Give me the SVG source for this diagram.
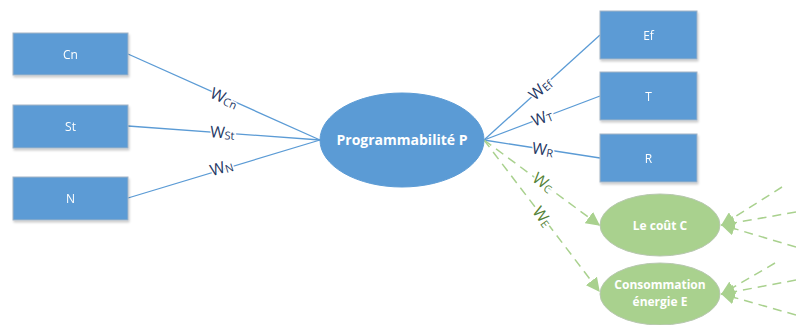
<svg xmlns="http://www.w3.org/2000/svg" width="796" height="325" viewBox="0 0 796 325">
<defs>
<style>
.box{fill:#5B9BD5;stroke:#A5B5C5;stroke-width:1}
.bt{font-family:"Open Sans","Liberation Sans",sans-serif;font-size:12px;fill:#fff;text-anchor:middle;dominant-baseline:central}
.et{font-family:"Open Sans","Liberation Sans",sans-serif;font-weight:bold;fill:#fff;text-anchor:middle}
.ge{fill:#A9D18E;stroke:#B8C8B0;stroke-width:1}
.ln{stroke:#5B9BD5;stroke-width:1.3;fill:none}
.dl{stroke:#A9D18E;stroke-width:1.5;fill:none;stroke-dasharray:9 6}
.wl{font-family:"Open Sans","Liberation Sans",sans-serif;font-size:16px;fill:#1F3864;text-anchor:middle;stroke:#fff;stroke-width:3;paint-order:stroke}
.wg{fill:#548235}
.sub{font-size:11px}
</style>
<marker id="ah2" viewBox="0 0 10 10" refX="9" refY="5" markerWidth="14" markerHeight="14" markerUnits="userSpaceOnUse" orient="auto">
<path d="M0,0 L10,5 L0,10 z" fill="#A9D18E"/>
</marker>
<filter id="sh" x="-10%" y="-10%" width="130%" height="140%">
<feDropShadow dx="1" dy="2" stdDeviation="1.2" flood-color="#000" flood-opacity="0.2"/>
</filter>
</defs>

<g id="connectors">
<line class="ln" x1="128" y1="54" x2="320" y2="140"/>
<line class="ln" x1="128" y1="126" x2="320" y2="140"/>
<line class="ln" x1="128" y1="198" x2="320" y2="140"/>
<line class="ln" x1="484" y1="140" x2="600" y2="35"/>
<line class="ln" x1="484" y1="140" x2="600" y2="96"/>
<line class="ln" x1="484" y1="140" x2="600" y2="158"/>
<line class="dl" x1="484" y1="140" x2="599" y2="225" marker-end="url(#ah2)"/>
<line class="dl" x1="484" y1="140" x2="599" y2="291" marker-end="url(#ah2)"/>
<line class="dl" x1="782" y1="187" x2="722" y2="225" marker-end="url(#ah2)"/>
<line class="dl" x1="796" y1="212" x2="722" y2="225" marker-end="url(#ah2)"/>
<line class="dl" x1="796" y1="247" x2="722" y2="225" marker-end="url(#ah2)"/>
<line class="dl" x1="775" y1="263" x2="722" y2="294" marker-end="url(#ah2)"/>
<line class="dl" x1="796" y1="280" x2="722" y2="294" marker-end="url(#ah2)"/>
<line class="dl" x1="796" y1="315" x2="722" y2="294" marker-end="url(#ah2)"/>
<text class="wl" transform="translate(222,103) rotate(24)">W<tspan class="sub" dy="1">Cn</tspan></text>
<text class="wl" transform="translate(222,138) rotate(4)">W<tspan class="sub" dy="1">St</tspan></text>
<text class="wl" transform="translate(223,173) rotate(-17)">W<tspan class="sub" dy="1">N</tspan></text>
<text class="wl" transform="translate(544,93) rotate(-42)">W<tspan class="sub" dy="1">Ef</tspan></text>
<text class="wl" transform="translate(544,123) rotate(-21)">W<tspan class="sub" dy="1">T</tspan></text>
<text class="wl" transform="translate(542,155) rotate(9)">W<tspan class="sub" dy="1">R</tspan></text>
<text class="wl wg" transform="translate(540,187) rotate(36)">W<tspan class="sub" dy="1">C</tspan></text>
<text class="wl wg" transform="translate(538,220) rotate(53)">W<tspan class="sub" dy="1">E</tspan></text>
</g>

<g id="node-cn" filter="url(#sh)"><rect class="box" x="13" y="33" width="115" height="42"/><text class="bt" x="70.5" y="54">Cn</text></g>
<g id="node-st" filter="url(#sh)"><rect class="box" x="13" y="105" width="115" height="43"/><text class="bt" x="70.5" y="126">St</text></g>
<g id="node-n" filter="url(#sh)"><rect class="box" x="13" y="177" width="115" height="43"/><text class="bt" x="70.5" y="198">N</text></g>

<g id="node-p"><ellipse cx="402" cy="140" rx="82" ry="47" fill="#5B9BD5" stroke="#5B9BD5"/><text class="et" x="402" y="145" font-size="14">Programmabilité P</text></g>

<g id="node-ef" filter="url(#sh)"><rect class="box" x="600" y="11" width="97" height="48"/><text class="bt" x="648.5" y="35">Ef</text></g>
<g id="node-t" filter="url(#sh)"><rect class="box" x="600" y="72" width="97" height="48"/><text class="bt" x="648.5" y="96">T</text></g>
<g id="node-r" filter="url(#sh)"><rect class="box" x="600" y="134" width="97" height="48"/><text class="bt" x="648.5" y="158">R</text></g>

<g id="node-c"><ellipse class="ge" cx="660" cy="225" rx="60" ry="31"/><text class="et" x="660" y="230" font-size="12">Le coût C</text></g>
<g id="node-e"><ellipse class="ge" cx="660" cy="294" rx="60" ry="31"/><text class="et" x="660" y="289" font-size="12">Consommation</text><text class="et" x="660" y="306" font-size="12">énergie E</text></g>
</svg>
